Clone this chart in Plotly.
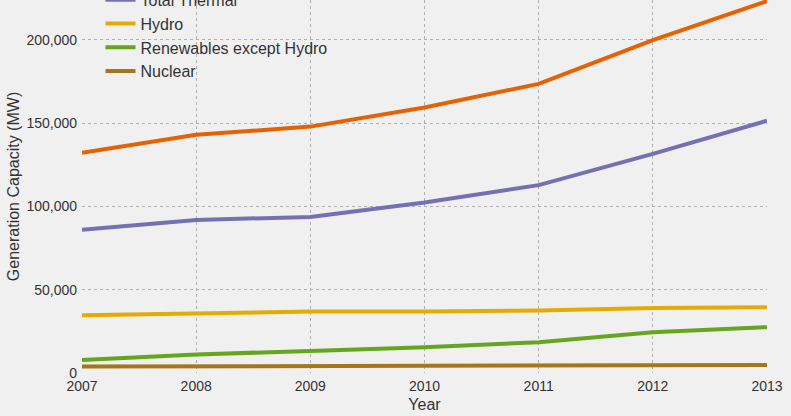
import plotly.graph_objects as go

years = [2007, 2008, 2009, 2010, 2011, 2012, 2013]
total = [132329, 143061, 147965, 159398, 173626, 199877, 223344]
thermal = [86015, 91907, 93725, 102454, 112824, 131603, 151530]
hydro = [34654, 35909, 36878, 36863, 37567, 38990, 39491]
renewables = [7760, 11125, 13242, 15521, 18455, 24503, 27542]
nuclear = [3900, 4120, 4120, 4560, 4780, 4780, 4780]

series = [
    ("Total", total, "#e66101"),
    ("Total Thermal", thermal, "#7570b3"),
    ("Hydro", hydro, "#e6ab02"),
    ("Renewables except Hydro", renewables, "#66a61e"),
    ("Nuclear", nuclear, "#a6761d"),
]

fig = go.Figure()
for name, vals, color in series:
    fig.add_trace(go.Scatter(x=years, y=vals, mode="lines", name=name,
                             line=dict(color=color, width=4)))

font_family = "Liberation Sans, Arial, sans-serif"
fig.update_layout(
    width=791, height=416,
    paper_bgcolor="#f0f0f0", plot_bgcolor="#f0f0f0",
    margin=dict(l=82, r=24, t=0, b=43, autoexpand=False),
    font=dict(family=font_family, size=14, color="#333333"),
    showlegend=True,
    legend=dict(x=0.027, y=1.11, xanchor="left", yanchor="top",
                bgcolor="rgba(0,0,0,0)", font=dict(size=16, color="#333333"),
                tracegroupgap=0),
    xaxis=dict(range=[2007, 2013], tickvals=years, ticktext=[str(y) for y in years],
               showgrid=True, gridcolor="#b0b0b0", griddash="dot", gridwidth=1,
               zeroline=False, showline=False, ticks="", ticklabelstandoff=3,
               title=dict(text="Year", font=dict(size=16), standoff=5)),
    yaxis=dict(range=[0, 224000], tickvals=[0, 50000, 100000, 150000, 200000],
               tickformat=",", showgrid=True, gridcolor="#b0b0b0", griddash="dot",
               gridwidth=1, zeroline=False, showline=False, ticks="",
               ticklabelstandoff=4,
               title=dict(text="Generation Capacity (MW)", font=dict(size=16), standoff=2)),
)

fig.write_html("out.html", config={"displayModeBar": False},
               post_script="document.body.style.margin='0';document.body.style.background='#f0f0f0';")
